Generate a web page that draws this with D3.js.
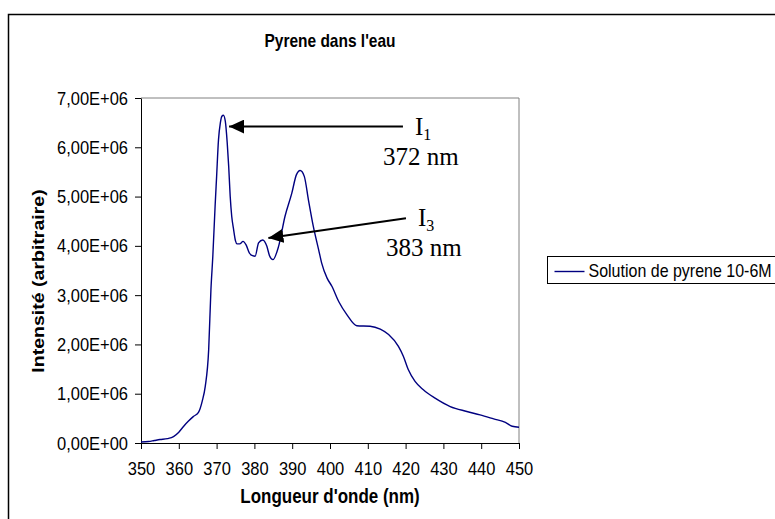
<!DOCTYPE html>
<html>
<head>
<meta charset="utf-8">
<script src="https://cdn.jsdelivr.net/npm/d3@7"></script>
<style>
  body { margin: 0; background: #fff; }
  text { font-family: "Liberation Sans", Arial, sans-serif; fill: #000; }
  .tick text { font-size: 16.5px; }
  .annot { font-family: "Liberation Serif", "Times New Roman", serif; font-size: 25px; }
</style>
</head>
<body>
<div id="chart"></div>
<script>
// DATA
const wavelength = [350, 352, 353.5, 355, 357, 358.6, 360, 361.3, 362.5, 363.9, 365.2, 366.2, 367, 367.9, 368.5, 369, 369.6, 370, 370.5, 371, 371.4, 371.8, 372.3, 372.8, 373.2, 373.6, 374, 374.5, 375, 375.4, 376.1, 377, 377.8, 378.7, 379.5, 380.2, 381.1, 382.2, 383.3, 384, 384.9, 386.4, 388.1, 389.9, 391.1, 392.1, 393.2, 394.3, 395.6, 397, 397.8, 399.2, 400.5, 402.3, 404.5, 407.1, 410.6, 413.3, 415.5, 418.1, 419.4, 420.7, 422.5, 424.7, 427.8, 431.8, 436.2, 439.7, 443.3, 446.4, 448.2, 450]
const intensity = [0.02, 0.03, 0.05, 0.07, 0.09, 0.13, 0.22, 0.34, 0.44, 0.54, 0.62, 0.85, 1.15, 1.89, 3.11, 3.79, 4.80, 5.40, 6.15, 6.50, 6.63, 6.65, 6.53, 6.10, 5.61, 5.00, 4.60, 4.33, 4.10, 4.04, 4.04, 4.09, 4.02, 3.85, 3.80, 3.79, 4.06, 4.12, 3.99, 3.80, 3.72, 3.99, 4.60, 5.07, 5.44, 5.53, 5.41, 4.93, 4.39, 3.92, 3.65, 3.35, 3.18, 2.87, 2.60, 2.38, 2.37, 2.31, 2.20, 1.96, 1.76, 1.49, 1.25, 1.08, 0.91, 0.74, 0.64, 0.57, 0.49, 0.42, 0.34, 0.32].map(v => v * 1e6)
const xTicks = [350, 360, 370, 380, 390, 400, 410, 420, 430, 440, 450]
const yTicks = [0, 1e6, 2e6, 3e6, 4e6, 5e6, 6e6, 7e6]
const seriesName = "Solution de pyrene 10-6M"
// annotations: [tip wl, tip value, tail wl, tail value, label, sub, nm]
const annotations = [
  [373.3, 6.42e6, 419.3, 6.42e6, "I", "1", "372 nm"],
  [383.7, 4.16e6, 420.1, 4.56e6, "I", "3", "383 nm"]
]

//LAYOUT
const W = 775, H = 519
const PLOT = { LEFT: 141, RIGHT: 519, TOP: 98, BOTTOM: 443 }
const STRETCH = 1.15   // the sans text in the picture is drawn a little taller than wide

const svg = d3.select("#chart").append("svg")
  .attr("width", W).attr("height", H)

// chart area border
svg.append("rect")
  .attr("x", 8.5).attr("y", 14.5).attr("width", 820).attr("height", 540)
  .attr("fill", "#fff").attr("stroke", "#000").attr("stroke-width", 1.5)

//SCALES
const x = d3.scaleLinear().domain([350, 450]).range([PLOT.LEFT, PLOT.RIGHT])
const y = d3.scaleLinear().domain([0, 7e6]).range([PLOT.BOTTOM, PLOT.TOP])

// plot area frame (grey top/right)
svg.append("path")
  .attr("d", `M${PLOT.LEFT},${PLOT.TOP}H${PLOT.RIGHT}V${PLOT.BOTTOM}`)
  .attr("fill", "none").attr("stroke", "#808080").attr("stroke-width", 1)

//AXES
const fmt = v => (v / 1e6).toFixed(2).replace(".", ",") + "E+06"
const fmtY = v => v === 0 ? "0,00E+00" : fmt(v)

const gx = svg.append("g")
  .attr("transform", `translate(0,${PLOT.BOTTOM})`)
  .call(d3.axisBottom(x).tickValues(xTicks).tickSize(6).tickSizeOuter(0))
const gy = svg.append("g")
  .attr("transform", `translate(${PLOT.LEFT},0)`)
  .call(d3.axisLeft(y).tickValues(yTicks).tickFormat(fmtY).tickSize(6).tickPadding(7).tickSizeOuter(0))
svg.selectAll(".domain, .tick line").attr("stroke", "#000")
gx.selectAll(".tick text").attr("y", 0).attr("dy", 0)
  .attr("transform", `translate(0,32) scale(1,${STRETCH})`)
gy.selectAll(".tick text").attr("transform", `scale(1,${STRETCH})`)

//SERIES
const line = d3.line()
  .x((d, i) => x(wavelength[i]))
  .y(d => y(d))
  .curve(d3.curveMonotoneX)
svg.append("path")
  .datum(intensity)
  .attr("d", line)
  .attr("fill", "none").attr("stroke", "#000080").attr("stroke-width", 1.4)

//TITLES
function sansText(str, px, py, size, rot) {
  return svg.append("text").text(str)
    .attr("transform", `translate(${px},${py}) scale(1,${STRETCH})` + (rot ? ` rotate(${rot})` : ""))
    .attr("text-anchor", "middle")
    .style("font-size", size + "px").style("font-weight", "bold")
}
sansText("Pyrene dans l'eau", 330, 47, 15.5)
sansText("Longueur d'onde (nm)", 330, 503, 17)
sansText("Intensité (arbitraire)", 44, 281, 17, -90)

//LEGEND
const gLegend = svg.append("g").attr("transform", "translate(547.5,256.5)")
gLegend.append("rect").attr("width", 260).attr("height", 27)
  .attr("fill", "#fff").attr("stroke", "#000").attr("stroke-width", 1)
gLegend.append("line").attr("x1", 7).attr("x2", 37).attr("y1", 15).attr("y2", 15)
  .attr("stroke", "#000080").attr("stroke-width", 1.4)
gLegend.append("text").text(seriesName)
  .attr("transform", `translate(41,20) scale(1,${STRETCH})`)
  .style("font-size", "16px")

//ANNOTATIONS
svg.append("defs").append("marker")
  .attr("id", "arrow").attr("markerUnits", "userSpaceOnUse")
  .attr("markerWidth", 16).attr("markerHeight", 14)
  .attr("refX", 15).attr("refY", 7).attr("orient", "auto")
  .append("path").attr("d", "M0,0L15,7L0,14Z").attr("fill", "#000")

annotations.forEach(a => {
  svg.append("line")
    .attr("x1", x(a[2])).attr("y1", y(a[3]))
    .attr("x2", x(a[0])).attr("y2", y(a[1]))
    .attr("stroke", "#000").attr("stroke-width", 2)
    .attr("marker-end", "url(#arrow)")
  const t = svg.append("text").attr("class", "annot")
    .attr("x", x(a[2]) + 12).attr("y", y(a[3]) + 8)
  t.append("tspan").text(a[4])
  t.append("tspan").text(a[5]).attr("dy", 5).style("font-size", "16px")
  svg.append("text").attr("class", "annot").text(a[6])
    .attr("x", x(a[2]) - 20).attr("y", y(a[3]) + 38)
})
</script>
</body>
</html>
